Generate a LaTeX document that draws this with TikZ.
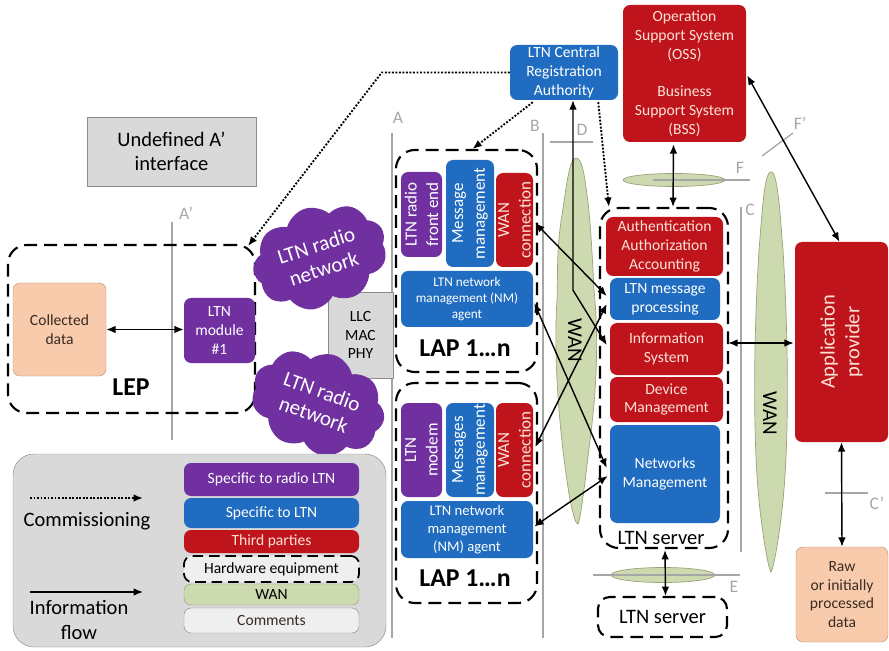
\documentclass[tikz,border=0pt]{standalone}
\usepackage{fontspec}
\setmainfont{Carlito}
\usetikzlibrary{shapes.symbols,shapes.geometric,arrows.meta,calc}
\definecolor{ppl}{HTML}{7030A0}
\definecolor{blu}{HTML}{1F6CC0}
\definecolor{rd}{HTML}{C0141C}
\definecolor{rtxt}{HTML}{FBE2D5}
\definecolor{pch}{HTML}{F8CBAD}
\definecolor{pchd}{HTML}{C09070}
\definecolor{brn}{HTML}{3A2A20}
\definecolor{gry}{HTML}{D9D9D9}
\definecolor{gryd}{HTML}{8C8C8C}
\definecolor{lgray}{HTML}{A6A6A6}
\definecolor{wang}{HTML}{CDDAAF}
\definecolor{wanb}{HTML}{98A37A}
\definecolor{cmt}{HTML}{EFEFEF}
\begin{document}
\begin{tikzpicture}[x=0.03cm,y=-0.03cm,
  rct/.style n args={4}{at={({(#1+#3)/2},{(#2+#4)/2})}, minimum width={(#3-#1)*0.03cm}, minimum height={(#4-#2)*0.03cm}},
  t13/.style={font=\fontsize{13.3}{16}\selectfont},
  t11/.style={font=\fontsize{11.3}{13.4}\selectfont},
  t15/.style={font=\fontsize{15}{18}\selectfont},
  t17/.style={font=\fontsize{17.5}{21}\selectfont},
  t18/.style={font=\fontsize{18}{21}\selectfont},
  big/.style={font=\fontsize{22}{24}\selectfont\bfseries},
  bx/.style={rectangle, rounded corners=6pt, inner sep=0pt, align=center},
  rbox/.style={bx, fill=rd, text=rtxt},
  bbox/.style={bx, fill=blu, text=white},
  pbox/.style={bx, fill=ppl, text=white},
  hw/.style={rectangle, draw=black, line width=1.8pt, dash pattern=on 11pt off 6pt, rounded corners=16pt, inner sep=0pt, align=center},
  ifc/.style={draw=lgray, line width=1.1pt},
  lbl/.style={text=lgray, t15},
  wanf/.style={fill=wang, draw=wanb, line width=0.6pt},
  arr/.style={-{Latex[length=8pt,width=6.5pt]}, line width=1.2pt},
  dbl/.style={{Latex[length=8pt,width=6.5pt]}-{Latex[length=8pt,width=6.5pt]}, line width=1.2pt},
  dot/.style={-{Latex[length=8pt,width=6.5pt]}, line width=1.6pt, dash pattern=on 1.6pt off 1.4pt},
  vtxt/.style={rotate=90, align=center, font=\fontsize{14.5}{18.5}\selectfont},
  cld/.style={cloud, cloud puffs=9, cloud puff arc=115, aspect=1.5, fill=ppl, text=white, align=center, t18},
]
\useasboundingbox (0,0) rectangle (889,651);

% WAN shapes
\path[wanf] (576,158) .. controls (569,158) and (566,190) .. (562,215) .. controls (556,250) and (558,280) .. (557,300) .. controls (553,360) and (560,440) .. (570,500) .. controls (574,518) and (576,524) .. (578,524) .. controls (580,520) and (583,500) .. (590,440) .. controls (598,380) and (598,330) .. (594,290) .. controls (592,250) and (590,215) .. (587,195) .. controls (584,170) and (581,158) .. cycle;
\path[wanf] (771,172) .. controls (764,172) and (762,215) .. (759,250) .. controls (754,330) and (752,440) .. (760,510) .. controls (764,545) and (769,570) .. (771,572) .. controls (773,570) and (778,545) .. (782,510) .. controls (790,440) and (788,330) .. (783,250) .. controls (780,215) and (778,172) .. cycle;
\path[wanf] (674,180) ellipse [x radius=51, y radius=6.5];
\path[wanf] (663,575) ellipse [x radius=52, y radius=7.5];
\node[rotate=-90, t18] (wanL) at (575,340) {WAN};
\node[rotate=-90, t18] (wanR) at (770,413) {WAN};

% interface lines
\draw[ifc] (172,222) -- (172,440);
\draw[ifc] (392,133) -- (392,638);
\draw[ifc] (543,133) -- (543,638);
\draw[ifc] (550,142) -- (593,142);
\draw[ifc] (741,207) -- (741,552);
\draw[ifc] (653,180) -- (750,180);
\draw[ifc] (762,156) -- (793,133);
\draw[ifc] (825,493) -- (868,493);
\draw[ifc] (593,575) -- (740,575);
\node[lbl] (lAp) at (186,213) {A’};
\node[lbl] (lA) at (398,118) {A};
\node[lbl] (lB) at (535,126) {B};
\node[lbl] (lD) at (582,130) {D};
\node[lbl] (lC) at (750,210) {C};
\node[lbl] (lF) at (740,168) {F};
\node[lbl] (lFp) at (800,123) {F’};
\node[lbl] (lCp) at (877,503) {C’};
\node[lbl] (lE) at (734,587) {E};

% undefined interface
\node[bx, sharp corners, fill=gry, draw=gryd, rct={87}{117}{256}{186}, t17] (undef) {Undefined A’\\interface};

% LEP
\node[hw, rct={8}{245}{255}{413}] (lep) {};
\node[bx, fill=pch, draw=pchd, text=brn, rct={13}{283}{106}{376}, t13] (col) {Collected\\data};
\node[pbox, rct={184}{298}{255}{363}, t13] (mod) {LTN\\module\\\#1};
\node[big] (leplbl) at (131,387) {LEP};
\draw[dbl] (col.east) -- (col.east -| mod.west);

% LLC and clouds
\node[bx, sharp corners, fill=gry, draw=gryd, rct={328}{292}{393}{378}, t13] (llc) {LLC\\MAC\\PHY};
\node[cld, minimum width=4.1cm, minimum height=2.6cm, rotate=18] (cl1) at (320,257) {LTN radio\\network};
\node[cld, minimum width=4.1cm, minimum height=2.8cm, rotate=-20] (cl2) at (318,403) {LTN radio\\network};

% LAP top
\node[hw, rct={396}{150}{537}{372}] (lap1) {};
\node[pbox, rct={401}{172}{442}{257}] (rfe) {};
\node[vtxt, text=white] (rfet) at (rfe.center) {LTN radio\\front end};
\node[bbox, rct={446}{160}{494}{267}] (mm1) {};
\node[vtxt, text=white] (mm1t) at (mm1.center) {Message\\management};
\node[rbox, rct={496}{173}{533}{267}] (wc1) {};
\node[vtxt, text=rtxt] (wc1t) at (wc1.center) {WAN\\connection};
\node[bbox, rct={401}{271}{533}{327}, t11] (nm1) {LTN network\\management (NM)\\agent};
\node[big] (lap1lbl) at (465,348) {LAP 1…n};

% LAP bottom
\node[hw, rct={396}{383}{537}{603}] (lap2) {};
\node[pbox, rct={401}{403}{442}{497}] (mdm) {};
\node[vtxt, text=white] (mdmt) at (mdm.center) {LTN\\modem};
\node[bbox, rct={446}{403}{494}{497}] (mm2) {};
\node[vtxt, text=white] (mm2t) at (mm2.center) {Messages\\management};
\node[rbox, rct={496}{403}{533}{497}] (wc2) {};
\node[vtxt, text=rtxt] (wc2t) at (wc2.center) {WAN\\connection};
\node[bbox, rct={401}{501}{533}{558}, font=\fontsize{12.5}{15.5}\selectfont] (nm2) {LTN network\\management\\(NM) agent};
\node[big] (lap2lbl) at (465,578) {LAP 1…n};

% Central authority, OSS
\node[bbox, rct={510}{45}{618}{100}, t13] (auth) {LTN Central\\Registration\\Authority};
\node[rbox, rct={623}{5}{746}{142}, t13] (oss) {Operation\\Support System\\(OSS)\\[16pt]Business\\Support System\\(BSS)};

% LTN server
\node[hw, rct={600}{208}{728}{548}] (srv) {};
\node[rbox, rct={606}{217}{723}{276}, t13] (aaa) {Authentication\\Authorization\\Accounting};
\node[bbox, rct={610}{278}{720}{320}, t13] (msg) {LTN message\\processing};
\node[rbox, rct={610}{323}{723}{375}, t13] (info) {Information\\System};
\node[rbox, rct={610}{377}{723}{422}, t13] (dev) {Device\\Management};
\node[bbox, rct={610}{425}{720}{523}, t13] (nmg) {Networks\\Management};
\node[t17] (srvlbl) at (661,538) {LTN server};
\node[hw, rounded corners=10pt, rct={598}{597}{727}{637}, t17] (srv2) {LTN server};

% application provider, raw data
\node[rbox, rct={795}{242}{888}{442}] (app) {};
\node[rotate=90, text=rtxt, align=center, t17] (appt) at (app.center) {Application\\provider};
\node[bx, fill=pch, draw=pchd, text=brn, rct={796}{547}{888}{642}, t13] (raw) {Raw\\or initially\\processed\\data};

% arrows
\draw[dot] (auth.west) -- ++(-128,0) -- ($(lep.north east)+(-8,2)$);
\draw[dot] ($(auth.south west)+(23,2)$) -- ($(lap1.north)+(6,0)$);
\draw[dot] ($(auth.south east)+(-20,2)$) -- ($(srv.north west)+(10,0)$);
\draw[dbl] ($(auth.south)+(9,0)$) -- ++(0,190) -- ($(info.west)+(-3,-4)$);
\draw[dbl] ($(oss.south)+(-11,2)$) -- ($(srv.north)+(9,0)$);
\draw[dbl] ($(oss.east)+(1,2)$) -- ($(app.north)+(-2,0)$);
\draw[dbl] ($(info.east)+(5,-6)$) -- ($(app.west)+(-1,1)$);
\draw[dbl] (app.south) -- (raw.north);
\draw[dbl] ($(srv.south)+(1,1)$) -- ($(srv2.north)+(3,0)$);
\draw[dbl] ($(wc1.east)+(2,3)$) -- ($(msg.west)+(-3,-3)$);
\draw[dbl] ($(nm1.east)+(1,4)$) -- ($(nmg.west)+(-3,-6)$);
\draw[dbl] ($(msg.west)+(-3,5)$) -- ($(wc2.east)+(2,-3)$);
\draw[dbl] ($(nmg.west)+(-2,2)$) -- ($(nm2.east)+(1,-3)$);

% legend
\node[bx, fill=gry, draw=gryd, rounded corners=18pt, rct={13}{454}{386}{647}] (leg) {};
\coordinate (cs) at (30,498);
\coordinate (ce) at (143,498);
\draw[dot] (cs) -- (ce);
\node[t17] (comm) at (87,521) {Commissioning};
\coordinate (is) at (30,592);
\coordinate (ie) at (143,592);
\draw[arr] (is) -- (ie);
\node[t17, align=center] (infl) at (79,620) {Information\\flow};
\node[pbox, rct={184}{463}{359}{496}, t13] (lg1) {Specific to radio LTN};
\node[bbox, rct={184}{498}{359}{528}, t13] (lg2) {Specific to LTN};
\node[rbox, rct={184}{530}{359}{553}, t13] (lg3) {Third parties};
\node[hw, fill=cmt, line width=1.5pt, dash pattern=on 9pt off 5pt, rounded corners=7pt, rct={184}{556}{359}{582}, t13] (lg4) {Hardware equipment};
\node[bx, fill=wang, draw=wanb, rct={184}{584}{359}{605}, t13] (lg5) {WAN};
\node[bx, fill=cmt, draw=gryd, rct={184}{608}{359}{633}, t13, text=brn] (lg6) {Comments};
\end{tikzpicture}
\end{document}
